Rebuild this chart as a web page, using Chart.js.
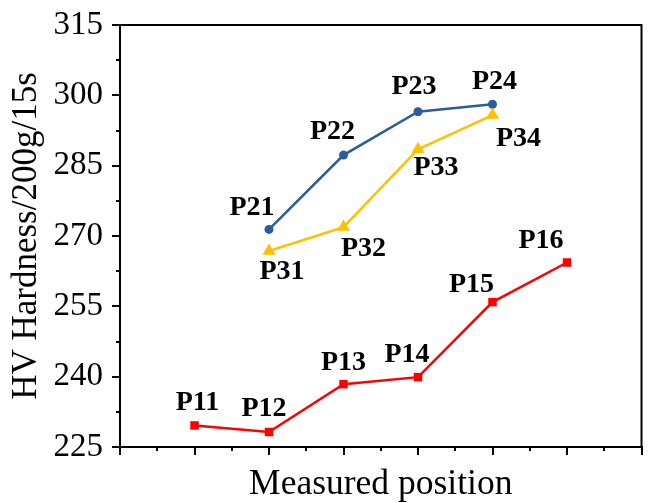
<!DOCTYPE html>
<html><head><meta charset="utf-8">
<script src="https://cdn.jsdelivr.net/npm/chart.js@4/dist/chart.umd.min.js"></script>
<style>html,body{margin:0;padding:0;background:#fff;} canvas{display:block;}</style>
</head><body>
<canvas id="c" width="649" height="503"></canvas>
<script>
// ---- data ----
const positions1 = [1, 2, 3, 4, 5, 6];
const names1 = ['P11', 'P12', 'P13', 'P14', 'P15', 'P16'];
const hardness1 = [229.6, 228.2, 238.4, 239.9, 255.9, 264.35];

const positions2 = [2, 3, 4, 5];
const names2 = ['P21', 'P22', 'P23', 'P24'];
const hardness2 = [271.4, 287.25, 296.5, 298.1];

const positions3 = [2, 3, 4, 5];
const names3 = ['P31', 'P32', 'P33', 'P34'];
const hardness3 = [266.8, 271.9, 288.5, 295.8];

const yTicks = [225, 240, 255, 270, 285, 300, 315];
const xRange = [0, 7];
const xTitle = 'Measured position';
const yTitle = 'HV Hardness/200g/15s';

// ---- style (label placement relative to points) ----
const labelOffsets1 = [[3,-23],[-5,-23],[0,-21],[-11,-22],[-21,-17],[-26,-22]];
const labelOffsets2 = [[-17,-22],[-11,-23],[-4,-25],[2,-22]];
const labelOffsets3 = [[13,21],[20,22],[18,19],[26,24]];

const FONT = '"Liberation Serif", "Times New Roman", serif';

function pts(xs, ys){ return xs.map((x,i)=>({x:x, y:ys[i]})); }

const pointLabels = {
  id: 'pointLabels',
  afterDatasetsDraw(chart){
    const ctx = chart.ctx;
    ctx.save();
    ctx.font = 'bold 28px ' + FONT;
    ctx.fillStyle = '#000';
    ctx.textAlign = 'center';
    ctx.textBaseline = 'middle';
    chart.data.datasets.forEach((ds, i) => {
      const meta = chart.getDatasetMeta(i);
      meta.data.forEach((pt, j) => {
        const o = ds.labelOffsets[j];
        ctx.fillText(ds.pointNames[j], pt.x + o[0], pt.y + o[1]);
      });
    });
    ctx.restore();
  }
};

const frameAndMinor = {
  id: 'frameAndMinor',
  afterDraw(chart){
    const ctx = chart.ctx, a = chart.chartArea;
    const xs = chart.scales.x, ys = chart.scales.y;
    ctx.save();
    ctx.strokeStyle = '#000';
    ctx.lineWidth = 2;
    ctx.beginPath();
    ctx.moveTo(a.left - 1, a.top);
    ctx.lineTo(a.right, a.top);
    ctx.lineTo(a.right, a.bottom + 1);
    ctx.stroke();
    // minor ticks
    ctx.beginPath();
    for (let v = xRange[0] + 0.5; v < xRange[1]; v += 1) {
      const px = Math.round(xs.getPixelForValue(v));
      ctx.moveTo(px, a.bottom);
      ctx.lineTo(px, a.bottom + 4);
    }
    for (let i = 0; i < yTicks.length - 1; i++) {
      const v = (yTicks[i] + yTicks[i+1]) / 2;
      const py = Math.round(ys.getPixelForValue(v));
      ctx.moveTo(a.left, py);
      ctx.lineTo(a.left - 4, py);
    }
    ctx.stroke();
    ctx.restore();
  }
};

const gridOpts = {
  display: true,
  drawOnChartArea: false,
  drawTicks: true,
  tickLength: 8,
  tickWidth: 2,
  tickColor: '#000',
  color: '#000',
  lineWidth: 2
};

new Chart(document.getElementById('c'), {
  type: 'line',
  data: {
    datasets: [
      {
        data: pts(positions3, hardness3),
        pointNames: names3, labelOffsets: labelOffsets3,
        borderColor: '#FFC000', backgroundColor: '#FFC000',
        borderWidth: 2.5, pointStyle: 'triangle', pointRadius: 7.5,
        pointBorderWidth: 0, tension: 0, order: 1
      },
      {
        data: pts(positions2, hardness2),
        pointNames: names2, labelOffsets: labelOffsets2,
        borderColor: '#2B5C9B', backgroundColor: '#2B5C9B',
        borderWidth: 2.5, pointStyle: 'circle', pointRadius: 4.5,
        pointBorderWidth: 0, tension: 0, order: 2
      },
      {
        data: pts(positions1, hardness1),
        pointNames: names1, labelOffsets: labelOffsets1,
        borderColor: '#FF0000', backgroundColor: '#FF0000',
        borderWidth: 2.5, pointStyle: 'rect', pointRadius: 6,
        pointBorderWidth: 0, tension: 0, order: 3
      }
    ]
  },
  options: {
    responsive: false,
    animation: false,
    devicePixelRatio: 1,
    clip: false,
    layout: { padding: { top: 25, right: 4.5, left: 0, bottom: 0 } },
    plugins: { legend: { display: false }, tooltip: { enabled: false } },
    scales: {
      x: {
        type: 'linear',
        min: xRange[0], max: xRange[1],
        ticks: { stepSize: 1, callback: () => '', padding: 0 },
        grid: gridOpts,
        border: { display: true, color: '#000', width: 2 },
        title: {
          display: true, text: xTitle,
          font: { family: FONT, size: 35.5, lineHeight: 1 },
          color: '#000', padding: { top: 0, bottom: 1 }
        },
        afterFit(s){ s.height = 56; s.paddingLeft = 0; s.paddingRight = 0; }
      },
      y: {
        type: 'linear',
        min: yTicks[0], max: yTicks[yTicks.length - 1],
        afterBuildTicks(s){ s.ticks = yTicks.map(v => ({ value: v })); },
        ticks: { font: { family: FONT, size: 33 }, color: '#000', padding: 9 },
        grid: gridOpts,
        border: { display: true, color: '#000', width: 2 },
        title: {
          display: true, text: yTitle,
          font: { family: FONT, size: 35, lineHeight: 1 },
          color: '#000', padding: { top: 9, bottom: 0 }
        },
        afterFit(s){ s.width = 120; s.paddingTop = 0; s.paddingBottom = 0; }
      }
    }
  },
  plugins: [pointLabels, frameAndMinor]
});
</script>
</body></html>
